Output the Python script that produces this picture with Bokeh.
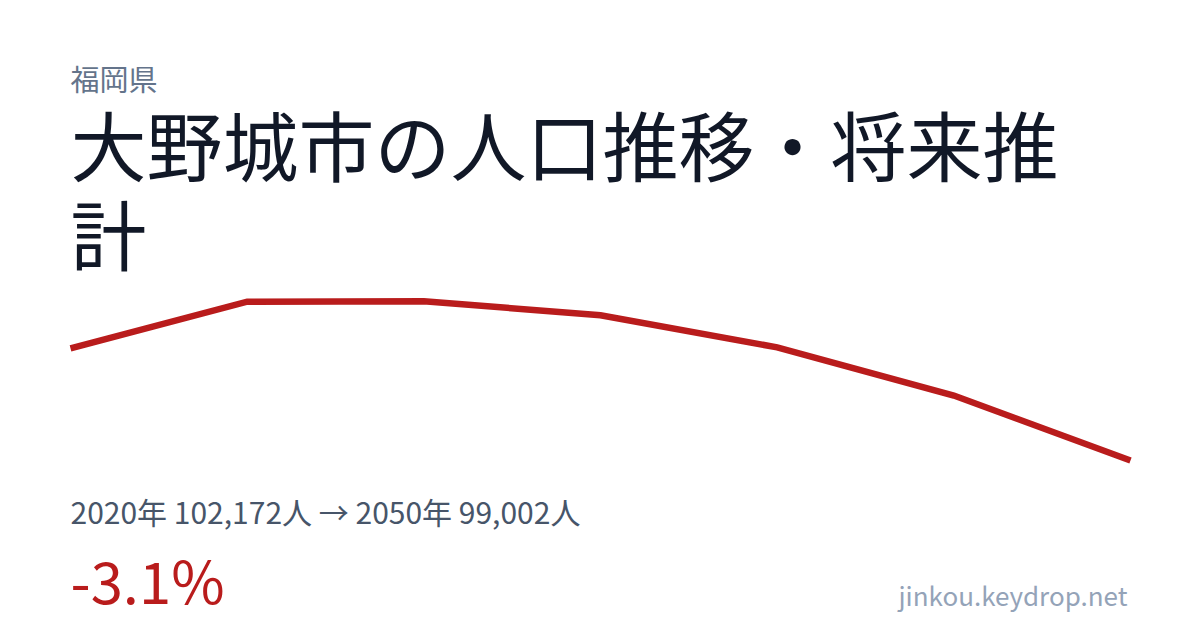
from bokeh.plotting import figure
from bokeh.models import Range1d, Label
from bokeh.embed import file_html
from bokeh.resources import INLINE

# ---- data ----
years = [2020, 2025, 2030, 2035, 2040, 2045, 2050]
population = [102172, 103490, 103505, 103105, 102200, 100838, 99002]
prefecture = "福岡県"
title_line1 = "大野城市の人口推移・将来推"
title_line2 = "計"
summary = "2020年 102,172人 → 2050年 99,002人"
change = "-3.1%"
site = "jinkou.keydrop.net"

# ---- layout (figure pixel coordinates, origin top-left) ----
W, H = 1200, 630
plot_left, plot_right = 70, 1130
plot_top, plot_bottom = 300.7, 460
FONT = "Noto Sans CJK JP"

p = figure(width=W, height=H, x_range=Range1d(0, W), y_range=Range1d(H, 0),
           min_border=0, toolbar_location=None, output_backend="svg",
           x_axis_location=None, y_axis_location=None)
p.grid.visible = False
p.outline_line_color = None
p.background_fill_color = "white"
p.border_fill_color = "white"

# extra ranges mapping data to the chart band
x0, x1 = min(years), max(years)
xs = (x1 - x0) / (plot_right - plot_left)
p.extra_x_ranges = {"yr": Range1d(x0 - plot_left * xs, x0 + (W - plot_left) * xs)}
ymin, ymax = min(population), max(population)
ys = (ymax - ymin) / (plot_bottom - plot_top)
p.extra_y_ranges = {"pop": Range1d(ymax - (H - plot_top) * ys, ymax + plot_top * ys)}

p.line(years, population, x_range_name="yr", y_range_name="pop",
       line_color="#b91c1c", line_width=6.5, line_join="miter", line_cap="butt")

def add_label(text, x, y, size, color, align="left"):
    p.add_layout(Label(x=x, y=y, text=text, text_font=FONT,
                       text_font_size=f"{size}px", text_color=color,
                       text_align=align, text_baseline="alphabetic"))

add_label(prefecture, 70, 77, 29, "#64748b")
add_label(title_line1, 70, 142, 76, "#111827")
add_label(title_line2, 70, 231, 76, "#111827")
add_label(summary, 70, 510, 30, "#475569")
add_label(change, 70, 578.5, 58, "#b91c1c")
add_label(site, 1127, 594, 26, "#94a3b8", align="right")

open("out.html", "w").write(file_html(p, INLINE))
